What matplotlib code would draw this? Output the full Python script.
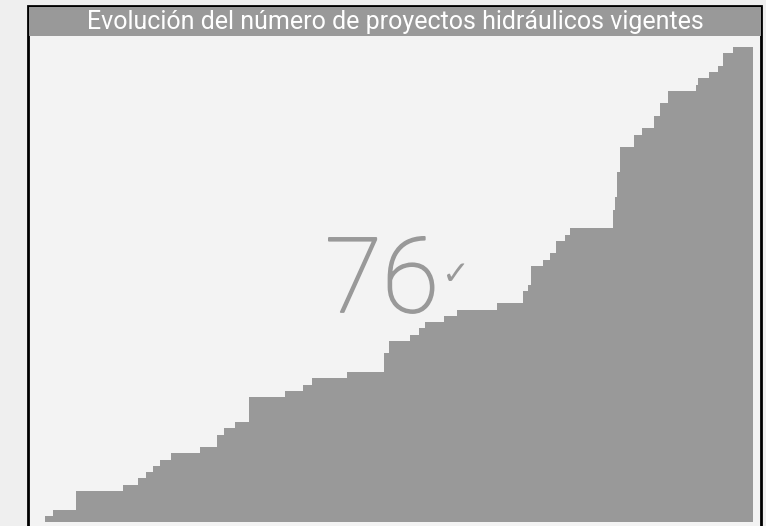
import matplotlib
matplotlib.use("Agg")
import matplotlib.pyplot as plt
import matplotlib.patheffects as pe
from matplotlib.patches import Rectangle

# ================= DATOS =================
TITULO = "Evolución del número de proyectos hidráulicos vigentes"
TOTAL = "76"

# día desde el inicio del registro y número acumulado de proyectos vigentes
dias = [0, 8, 31, 78, 93, 101, 108, 115, 126, 155, 172, 179, 190, 204,
        240, 258, 267, 302, 339, 344, 365, 374, 380, 399, 412, 452, 478,
        483, 486, 498, 505, 511, 520, 525, 568, 570, 572, 575, 589, 597,
        609, 615, 623, 651, 653, 664, 673, 678, 688]
proyectos = [1, 2, 5, 6, 7, 8, 9, 10, 11, 12, 14, 15, 16, 20,
             21, 22, 23, 24, 27, 29, 30, 31, 32, 33, 34, 35, 37,
             38, 41, 42, 43, 45, 46, 47, 50, 52, 56, 60, 62, 63,
             65, 67, 69, 70, 71, 72, 73, 75, 76]
dia_final = 708

# ================= ESTILO =================
W, H = 766, 526
GRIS = "#999999"
FONDO = "#efefef"
PANEL = "#f3f3f3"


def fx(px):
    return px / W


def fy(py):
    return 1 - py / H


fig = plt.figure(figsize=(W / 100, H / 100), dpi=100, facecolor=FONDO)

# panel con borde negro y barra de título
fig.patches.append(Rectangle((fx(28), fy(540)), fx(761) - fx(28), fy(6) - fy(540),
                             transform=fig.transFigure, facecolor=PANEL,
                             edgecolor="black", linewidth=2, zorder=-2))
fig.patches.append(Rectangle((fx(29), fy(36)), fx(760.5) - fx(29), fy(7) - fy(36),
                             transform=fig.transFigure, facecolor=GRIS,
                             edgecolor="none", zorder=3))
fig.text(fx(395), fy(21.5), TITULO, color="white", fontsize=18,
         family=["Roboto", "DejaVu Sans"], ha="center", va="center", zorder=4)

# área escalonada
ax = fig.add_axes([fx(45), fy(522), fx(753) - fx(45), fy(47) - fy(522)])
ax.set_zorder(1)
ax.set_facecolor("none")
x = dias + [dia_final]
y = proyectos + [proyectos[-1]]
ax.fill_between(x, y, step="post", color=GRIS, linewidth=0)
ax.set_xlim(0, dia_final)
ax.set_ylim(0, max(proyectos))
ax.set_axis_off()

# total grande con marca
fig.text(fx(382), fy(312), TOTAL, color=GRIS, fontsize=75, fontweight="light",
         family=["Roboto", "DejaVu Sans"], ha="center", va="baseline", zorder=5,
         path_effects=[pe.withStroke(linewidth=1.3, foreground=GRIS)])
fig.text(fx(442), fy(284), "\u2713", color=GRIS, fontsize=24,
         family=["DejaVu Sans"], ha="left", va="baseline", zorder=5)

fig.savefig("out.png", dpi=100, facecolor=FONDO)
